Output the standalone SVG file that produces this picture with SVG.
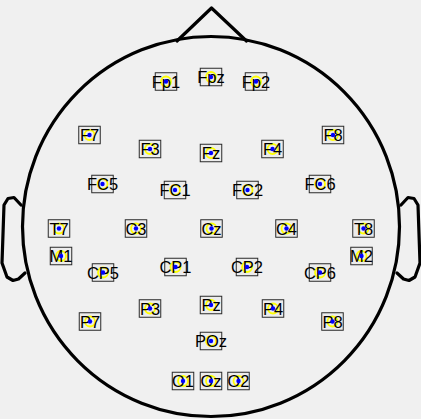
<svg xmlns="http://www.w3.org/2000/svg" width="421" height="419" viewBox="0 0 421 419">
<style>
.head{fill:none;stroke:#000;stroke-width:3.2;stroke-linejoin:round;stroke-linecap:round}
.box{fill:#ececec;stroke:#2a2a2a;stroke-width:1}
.ring{fill:none;stroke:#ffff00;stroke-width:1.8}
.dot{fill:#0000ff}
.lbl{font-family:"Liberation Sans",Arial,sans-serif;font-size:16.5px;fill:#000;text-anchor:middle}
</style>
<defs>
<g id="mark">
<rect class="box" x="-10.75" y="-8.75" width="21.5" height="17.5"/>
<circle class="ring" r="5"/>
</g>
</defs>
<rect width="421" height="419" fill="#f0f0f0"/>
<g id="connectors">
<ellipse class="head" cx="211" cy="226.5" rx="188.5" ry="190"/>
<path class="head" d="M177,41 L211.5,8 L246.5,41"/>
<path class="head" d="M21,205 L14,197.5 L8,198.5 L4,205 L2,263 L7,277 L13,280.5 L18.5,279 L25,273"/>
<path class="head" d="M401,205 L408,197.5 L414,198.5 L418,205 L420,263 L415,277 L409,280.5 L403.5,279 L397,273"/>
</g>
<g id="Fp1" transform="translate(166,81.5)"><use href="#mark"/><text class="lbl" y="6.2">Fp1</text><circle class="dot" r="2.2"/></g>
<g id="Fpz" transform="translate(211,77)"><use href="#mark"/><text class="lbl" y="6.2">Fpz</text><circle class="dot" r="2.2"/></g>
<g id="Fp2" transform="translate(256,81.5)"><use href="#mark"/><text class="lbl" y="6.2">Fp2</text><circle class="dot" r="2.2"/></g>
<g id="F7" transform="translate(89.5,135)"><use href="#mark"/><text class="lbl" y="6.2">F7</text><circle class="dot" r="2.2"/></g>
<g id="F3" transform="translate(150,149)"><use href="#mark"/><text class="lbl" y="6.2">F3</text><circle class="dot" r="2.2"/></g>
<g id="Fz" transform="translate(211,153)"><use href="#mark"/><text class="lbl" y="6.2">Fz</text><circle class="dot" r="2.2"/></g>
<g id="F4" transform="translate(272.5,149)"><use href="#mark"/><text class="lbl" y="6.2">F4</text><circle class="dot" r="2.2"/></g>
<g id="F8" transform="translate(333,135)"><use href="#mark"/><text class="lbl" y="6.2">F8</text><circle class="dot" r="2.2"/></g>
<g id="FC5" transform="translate(102.5,184)"><use href="#mark"/><text class="lbl" y="6.2">FC5</text><circle class="dot" r="2.2"/></g>
<g id="FC1" transform="translate(175,190)"><use href="#mark"/><text class="lbl" y="6.2">FC1</text><circle class="dot" r="2.2"/></g>
<g id="FC2" transform="translate(247.5,190)"><use href="#mark"/><text class="lbl" y="6.2">FC2</text><circle class="dot" r="2.2"/></g>
<g id="FC6" transform="translate(320,184)"><use href="#mark"/><text class="lbl" y="6.2">FC6</text><circle class="dot" r="2.2"/></g>
<g id="T7" transform="translate(59,228.5)"><use href="#mark"/><text class="lbl" y="6.2">T7</text><circle class="dot" r="2.2"/></g>
<g id="C3" transform="translate(136,228.5)"><use href="#mark"/><text class="lbl" y="6.2">C3</text><circle class="dot" r="2.2"/></g>
<g id="Cz" transform="translate(211.5,228.5)"><use href="#mark"/><text class="lbl" y="6.2">Cz</text><circle class="dot" r="2.2"/></g>
<g id="C4" transform="translate(286.5,228.5)"><use href="#mark"/><text class="lbl" y="6.2">C4</text><circle class="dot" r="2.2"/></g>
<g id="T8" transform="translate(363.5,228.5)"><use href="#mark"/><text class="lbl" y="6.2">T8</text><circle class="dot" r="2.2"/></g>
<g id="M1" transform="translate(61,256)"><use href="#mark"/><text class="lbl" y="6.2">M1</text><circle class="dot" r="2.2"/></g>
<g id="M2" transform="translate(361.5,256)"><use href="#mark"/><text class="lbl" y="6.2">M2</text><circle class="dot" r="2.2"/></g>
<g id="CP5" transform="translate(103,272.5)"><use href="#mark"/><text class="lbl" y="6.2">CP5</text><circle class="dot" r="2.2"/></g>
<g id="CP1" transform="translate(175.5,267)"><use href="#mark"/><text class="lbl" y="6.2">CP1</text><circle class="dot" r="2.2"/></g>
<g id="CP2" transform="translate(247,267)"><use href="#mark"/><text class="lbl" y="6.2">CP2</text><circle class="dot" r="2.2"/></g>
<g id="CP6" transform="translate(320,272.5)"><use href="#mark"/><text class="lbl" y="6.2">CP6</text><circle class="dot" r="2.2"/></g>
<g id="P7" transform="translate(90,321.5)"><use href="#mark"/><text class="lbl" y="6.2">P7</text><circle class="dot" r="2.2"/></g>
<g id="P3" transform="translate(150,308.5)"><use href="#mark"/><text class="lbl" y="6.2">P3</text><circle class="dot" r="2.2"/></g>
<g id="Pz" transform="translate(211,305)"><use href="#mark"/><text class="lbl" y="6.2">Pz</text><circle class="dot" r="2.2"/></g>
<g id="P4" transform="translate(273,308.5)"><use href="#mark"/><text class="lbl" y="6.2">P4</text><circle class="dot" r="2.2"/></g>
<g id="P8" transform="translate(332.5,321.5)"><use href="#mark"/><text class="lbl" y="6.2">P8</text><circle class="dot" r="2.2"/></g>
<g id="POz" transform="translate(211,341)"><use href="#mark"/><text class="lbl" y="6.2">POz</text><circle class="dot" r="2.2"/></g>
<g id="O1" transform="translate(183,381)"><use href="#mark"/><text class="lbl" y="6.2">O1</text><circle class="dot" r="2.2"/></g>
<g id="Oz" transform="translate(211,381)"><use href="#mark"/><text class="lbl" y="6.2">Oz</text><circle class="dot" r="2.2"/></g>
<g id="O2" transform="translate(238.5,381)"><use href="#mark"/><text class="lbl" y="6.2">O2</text><circle class="dot" r="2.2"/></g>
</svg>
